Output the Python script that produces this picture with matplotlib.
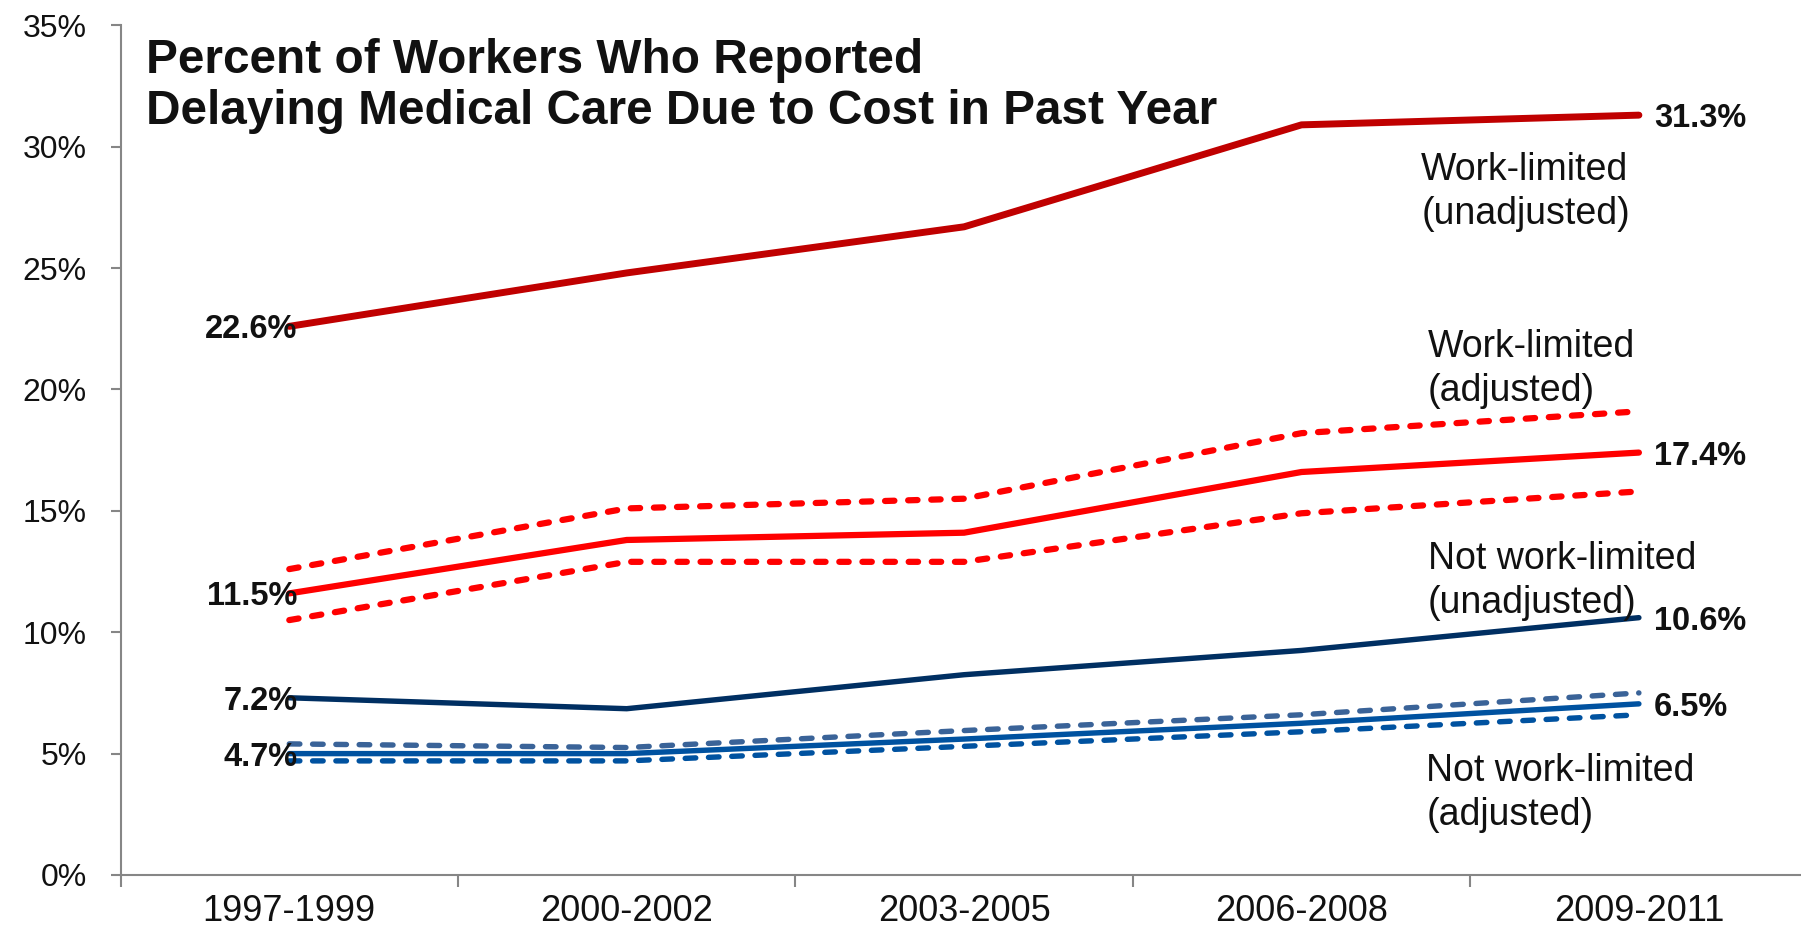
import matplotlib
matplotlib.use("Agg")
import matplotlib.pyplot as plt

plt.rcParams['font.family'] = ['Liberation Sans', 'DejaVu Sans']

periodos = ["1997-1999", "2000-2002", "2003-2005", "2006-2008", "2009-2011"]

# Porcentajes
wl_unadj = [22.6, 24.8, 26.7, 30.9, 31.3]
wl_adj = [11.6, 13.8, 14.1, 16.6, 17.4]
wl_adj_upper = [12.6, 15.1, 15.5, 18.2, 19.1]
wl_adj_lower = [10.5, 12.9, 12.9, 14.9, 15.8]
nwl_unadj = [7.3, 6.85, 8.25, 9.25, 10.6]
nwl_adj = [5.0, 5.0, 5.6, 6.25, 7.05]
nwl_adj_upper = [5.4, 5.25, 5.95, 6.6, 7.5]
nwl_adj_lower = [4.7, 4.7, 5.3, 5.9, 6.6]

# Etiquetas de los extremos (texto tal como aparece)
etiq_inicio = ["22.6%", "11.5%", "7.2%", "4.7%"]
etiq_fin = ["31.3%", "17.4%", "10.6%", "6.5%"]

nombres_series = ["Work-limited\n(unadjusted)", "Work-limited\n(adjusted)",
                  "Not work-limited\n(unadjusted)", "Not work-limited\n(adjusted)"]

titulo = ["Percent of Workers Who Reported",
          "Delaying Medical Care Due to Cost in Past Year"]

yticks = [0, 5, 10, 15, 20, 25, 30, 35]

fig = plt.figure(figsize=(18.01, 9.33), dpi=100)
ax = fig.add_axes([0.06696, 0.06217, 0.93670, 0.91070])

x = list(range(len(periodos)))
rojo_osc = "#C00000"
rojo = "#FF0000"
azul_osc = "#002F62"
azul = "#0052A0"
azul_claro = "#3A6398"

ax.plot(x, wl_unadj, color=rojo_osc, lw=5.0, solid_capstyle="round")
ax.plot(x, wl_adj, color=rojo, lw=4.5, solid_capstyle="round")
ax.plot(x, wl_adj_upper, color=rojo, lw=4.5, dashes=(1.5, 2.2), dash_capstyle="round")
ax.plot(x, wl_adj_lower, color=rojo, lw=4.5, dashes=(1.5, 2.2), dash_capstyle="round")
ax.plot(x, nwl_unadj, color=azul_osc, lw=3.9, solid_capstyle="round")
ax.plot(x, nwl_adj, color=azul, lw=3.9, solid_capstyle="round")
ax.plot(x, nwl_adj_upper, color=azul_claro, lw=3.9, dashes=(1.95, 2.35), dash_capstyle="round")
ax.plot(x, nwl_adj_lower, color=azul, lw=3.9, dashes=(1.95, 2.35), dash_capstyle="round")

# Etiquetas de datos al inicio y al final
con_etiqueta = [wl_unadj, wl_adj, nwl_unadj, nwl_adj]
for serie, t_ini, t_fin in zip(con_etiqueta, etiq_inicio, etiq_fin):
    ax.text(x[0] + 0.025, serie[0], t_ini, ha="right", va="center_baseline",
            fontsize=23.5, fontweight="bold", color="#111111")
    ax.text(x[-1] + 0.045, serie[-1], t_fin, ha="left", va="center_baseline",
            fontsize=23.5, fontweight="bold", color="#111111")

# Nombres de las series
pos_nombres = [(3.355, 28.15), (3.375, 20.84), (3.375, 12.1), (3.37, 3.36)]
for (px, py), nombre in zip(pos_nombres, nombres_series):
    ax.text(px, py, nombre, ha="left", va="center", fontsize=27,
            linespacing=1.29, color="#111111")

# Titulo
fig.text(0.0811, 1 - 72.7 / 933, titulo[0], ha="left", va="baseline",
         fontsize=34.4, fontweight="bold", color="#111111")
fig.text(0.0811, 1 - 124.4 / 933, titulo[1], ha="left", va="baseline",
         fontsize=34.4, fontweight="bold", color="#111111")

ax.set_xlim(-0.5, 4.5)
ax.set_ylim(0, 35)
ax.set_yticks(yticks)
ax.set_yticklabels([f"{v}%" for v in yticks])
ax.set_xticks(x)
ax.set_xticklabels(periodos)
ax.set_xticks([i - 0.5 for i in range(len(periodos) + 1)], minor=True)

gris = "#868686"
for lado in ["top", "right"]:
    ax.spines[lado].set_visible(False)
for lado in ["left", "bottom"]:
    ax.spines[lado].set_color(gris)
    ax.spines[lado].set_linewidth(1.5)

ax.tick_params(axis="y", direction="out", length=7.5, width=1.5, color=gris,
               labelsize=23, pad=17, labelcolor="#111111")
ax.tick_params(axis="x", which="major", length=0, labelsize=26, pad=14,
               labelcolor="#111111")
ax.tick_params(axis="x", which="minor", direction="out", length=8.4, width=1.5,
               color=gris)

fig.savefig("out.png", dpi=100)
